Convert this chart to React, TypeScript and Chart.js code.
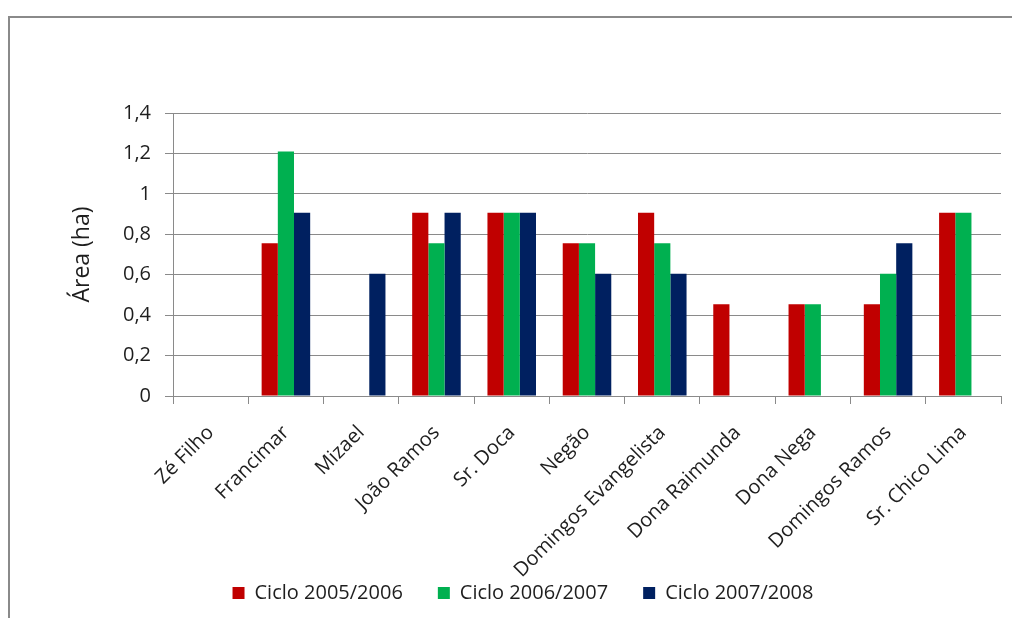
import React, { useEffect, useRef } from "react";
import { Chart, registerables } from "chart.js";

Chart.register(...registerables);

// Produtores (categorias do eixo X)
const produtores = [
  "Zé Filho",
  "Francimar",
  "Mizael",
  "João Ramos",
  "Sr. Doca",
  "Negão",
  "Domingos Evangelista",
  "Dona Raimunda",
  "Dona Nega",
  "Domingos Ramos",
  "Sr. Chico Lima",
];

// Área cultivada (ha) por ciclo
const ciclo2005_2006 = [null, 0.756, null, 0.907, 0.907, 0.756, 0.907, 0.454, 0.454, 0.454, 0.907];
const ciclo2006_2007 = [null, 1.21, null, 0.756, 0.907, 0.756, 0.756, null, 0.454, 0.605, 0.907];
const ciclo2007_2008 = [null, 0.907, 0.605, 0.907, 0.907, 0.605, 0.605, null, null, 0.756, null];

const serieNomes = ["Ciclo 2005/2006", "Ciclo 2006/2007", "Ciclo 2007/2008"];
const serieCores = ["#C00000", "#00B050", "#002060"];

const eixoTitulo = "Área (ha)";
const eixoMax = 1.4;
const eixoPasso = 0.2;

const FONT = "'Open Sans', 'DejaVu Sans', sans-serif";
const GRID = "#8a8a8a";
const TEXT = "#1e1e1e";

const W = 996;
const H = 602;

export default function App() {
  const canvasRef = useRef<HTMLCanvasElement | null>(null);

  useEffect(() => {
    const canvas = canvasRef.current;
    if (!canvas) return;
    const chart = new Chart(canvas, {
      type: "bar",
      data: {
        labels: produtores,
        datasets: [ciclo2005_2006, ciclo2006_2007, ciclo2007_2008].map((d, i) => ({
          label: serieNomes[i],
          data: d,
          backgroundColor: serieCores[i],
          borderWidth: 0,
          barPercentage: 1,
          categoryPercentage: 0.645,
        })),
      },
      options: {
        responsive: false,
        animation: false,
        devicePixelRatio: 1,
        layout: { padding: { top: 105, right: 3, bottom: -3, left: 37 } },
        plugins: {
          tooltip: { enabled: false },
          legend: {
            position: "bottom",
            labels: {
              boxWidth: 12,
              boxHeight: 12,
              padding: 35,
              color: TEXT,
              font: { family: FONT, size: 20 },
            },
          },
        },
        scales: {
          x: {
            offset: true,
            grid: {
              offset: true,
              drawOnChartArea: false,
              drawTicks: true,
              tickLength: 8,
              color: GRID,
            },
            border: { display: true, color: GRID, width: 1 },
            ticks: {
              maxRotation: 45,
              minRotation: 45,
              autoSkip: false,
              padding: 17,
              color: TEXT,
              font: { family: FONT, size: 20 },
            },
            afterFit: (scale: any) => {
              scale.height = 152;
              // long rotated names run below the axis box, down towards the legend
              scale._computeLabelArea = () => undefined;
            },
          },
          y: {
            min: 0,
            max: eixoMax,
            ticks: {
              stepSize: eixoPasso,
              padding: 14,
              color: TEXT,
              font: { family: FONT, size: 20 },
              callback: (v: any) => Number(Number(v).toFixed(1)).toString().replace(".", ","),
            },
            grid: { color: GRID, tickLength: 8, lineWidth: 1 },
            border: { display: true, color: GRID, width: 1 },
            title: {
              display: true,
              text: eixoTitulo,
              color: TEXT,
              font: { family: FONT, size: 23 },
              padding: { top: 24, bottom: 0 },
            },
            afterFit: (scale: any) => {
              scale.width = 128;
            },
          },
        },
      },
    });
    return () => chart.destroy();
  }, []);

  return (
    <div style={{ position: "relative", width: W, height: H }}>
      {/* chart frame: only its left and top edges fall inside the window */}
      <div
        style={{
          position: "fixed",
          left: 8,
          top: 16,
          width: 1100,
          height: 700,
          borderLeft: `2px solid ${GRID}`,
          borderTop: `2px solid ${GRID}`,
          pointerEvents: "none",
        }}
      />
      <canvas
        ref={canvasRef}
        width={W}
        height={H}
        style={{ position: "absolute", left: 0, top: 0, width: W, height: H }}
      />
    </div>
  );
}
